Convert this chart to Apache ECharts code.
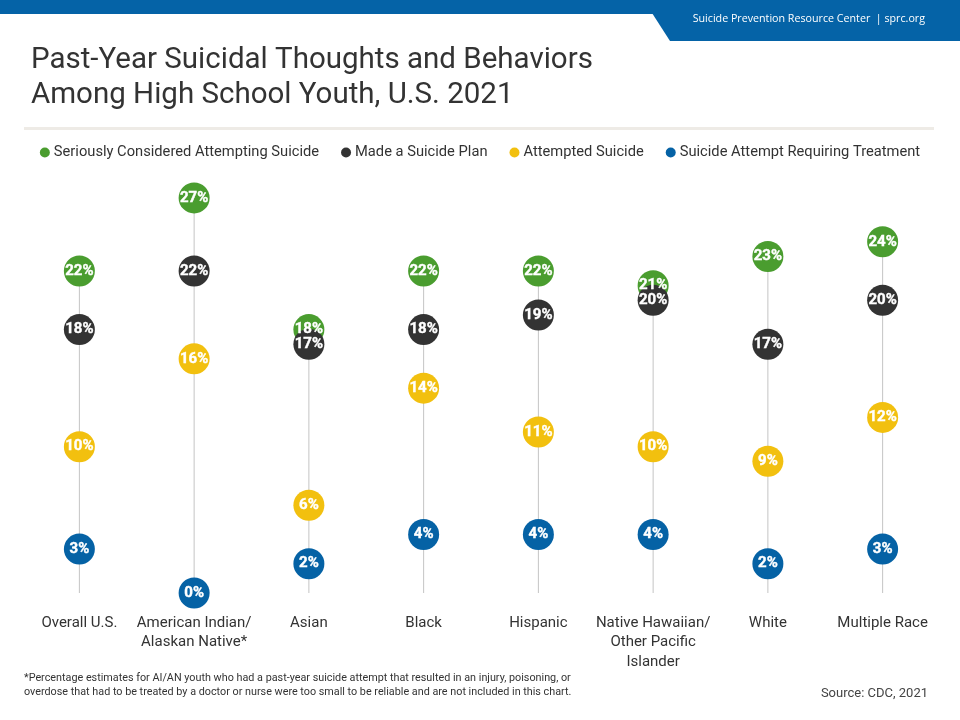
<!DOCTYPE html>
<html><head><meta charset="utf-8">
<script src="https://cdn.jsdelivr.net/npm/echarts@6/dist/echarts.min.js"></script>
<style>html,body{margin:0;padding:0;background:#fff}#c{width:960px;height:720px}</style>
</head><body><div id="c"></div>
<script>
const categories = ['Overall U.S.', 'American Indian/\nAlaskan Native*', 'Asian', 'Black', 'Hispanic', 'Native Hawaiian/\nOther Pacific\nIslander', 'White', 'Multiple Race'];
const seriesNames = ['Seriously Considered Attempting Suicide', 'Made a Suicide Plan', 'Attempted Suicide', 'Suicide Attempt Requiring Treatment'];
const considered = [22, 27, 18, 22, 22, 21, 23, 24];
const plan = [18, 22, 17, 18, 19, 20, 17, 20];
const attempted = [10, 16, 6, 14, 11, 10, 9, 12];
const treatment = [3, 0, 2, 4, 4, 4, 2, 3];
const colors = ['#4a9d2f', '#333333', '#f2c00f', '#0562a5'];

const allSeries = [considered, plan, attempted, treatment];
const stemTop = categories.map((c, i) => Math.max(...allSeries.map(s => s[i])));

const chart = echarts.init(document.getElementById('c'), null, {renderer: 'canvas'});
const option = {
  animation: false,
  backgroundColor: '#fff',
  textStyle: {fontFamily: 'Roboto'},
  title: {
    text: 'Past-Year Suicidal Thoughts and Behaviors\nAmong High School Youth, U.S. 2021',
    left: 26, top: 38,
    textStyle: {fontFamily: 'Roboto', fontSize: 29.5, fontWeight: 'normal', color: '#333', lineHeight: 35}
  },
  legend: {
    data: seriesNames,
    top: 140, left: 'center',
    icon: 'circle', itemWidth: 10, itemHeight: 10, itemGap: 22,
    textStyle: {fontFamily: 'Roboto', fontSize: 14.7, color: '#333', padding: [0, 0, 0, -1]}
  },
  grid: {left: 22, right: 20, top: 154, bottom: 127},
  xAxis: {
    type: 'category', data: categories, boundaryGap: true,
    axisLine: {show: false}, axisTick: {show: false}, splitLine: {show: false},
    axisLabel: {margin: 20, fontFamily: 'Roboto', fontSize: 15, color: '#333', lineHeight: 19.5, interval: 0}
  },
  yAxis: {type: 'value', min: 0, max: 30, show: false, splitLine: {show: false}},
  graphic: [
    {type: 'rect', shape: {x: 0, y: 0, width: 960, height: 14}, style: {fill: '#0563a7'}},
    {type: 'polygon', shape: {points: [[652, 13], [960, 13], [960, 41], [670, 41]]}, style: {fill: '#0563a7'}},
    {type: 'text', right: 35, top: 13, style: {text: 'Suicide Prevention Resource Center  | sprc.org', fill: '#fff', font: '10.7px "Open Sans"'}},
    {type: 'rect', shape: {x: 24, y: 127, width: 910, height: 3}, style: {fill: '#eeebe6'}},
    {type: 'text', left: 24, top: 671, style: {text: '*Percentage estimates for AI/AN youth who had a past-year suicide attempt that resulted in an injury, poisoning, or\noverdose that had to be treated by a doctor or nurse were too small to be reliable and are not included in this chart.', fill: '#333', font: '10.8px Roboto', lineHeight: 14}},
    {type: 'text', right: 32, top: 687, style: {text: 'Source: CDC, 2021', fill: '#444', font: '13px Roboto'}}
  ],
  series: [
    {type: 'bar', data: stemTop, barWidth: 1, silent: true, itemStyle: {color: '#c4c4c4'}, z: 1}
  ].concat(allSeries.map((d, i) => ({
    name: seriesNames[i], type: 'scatter', data: d, symbolSize: 31, z: 2,
    itemStyle: {color: colors[i], opacity: 1},
    label: {show: true, position: 'inside', formatter: '{c}%', color: '#fff', fontFamily: 'Roboto', fontWeight: 'bold', fontSize: 15, textBorderColor: '#fff', textBorderWidth: 0.4},
    emphasis: {disabled: true}
  })))
};
chart.setOption(option);
</script></body></html>
